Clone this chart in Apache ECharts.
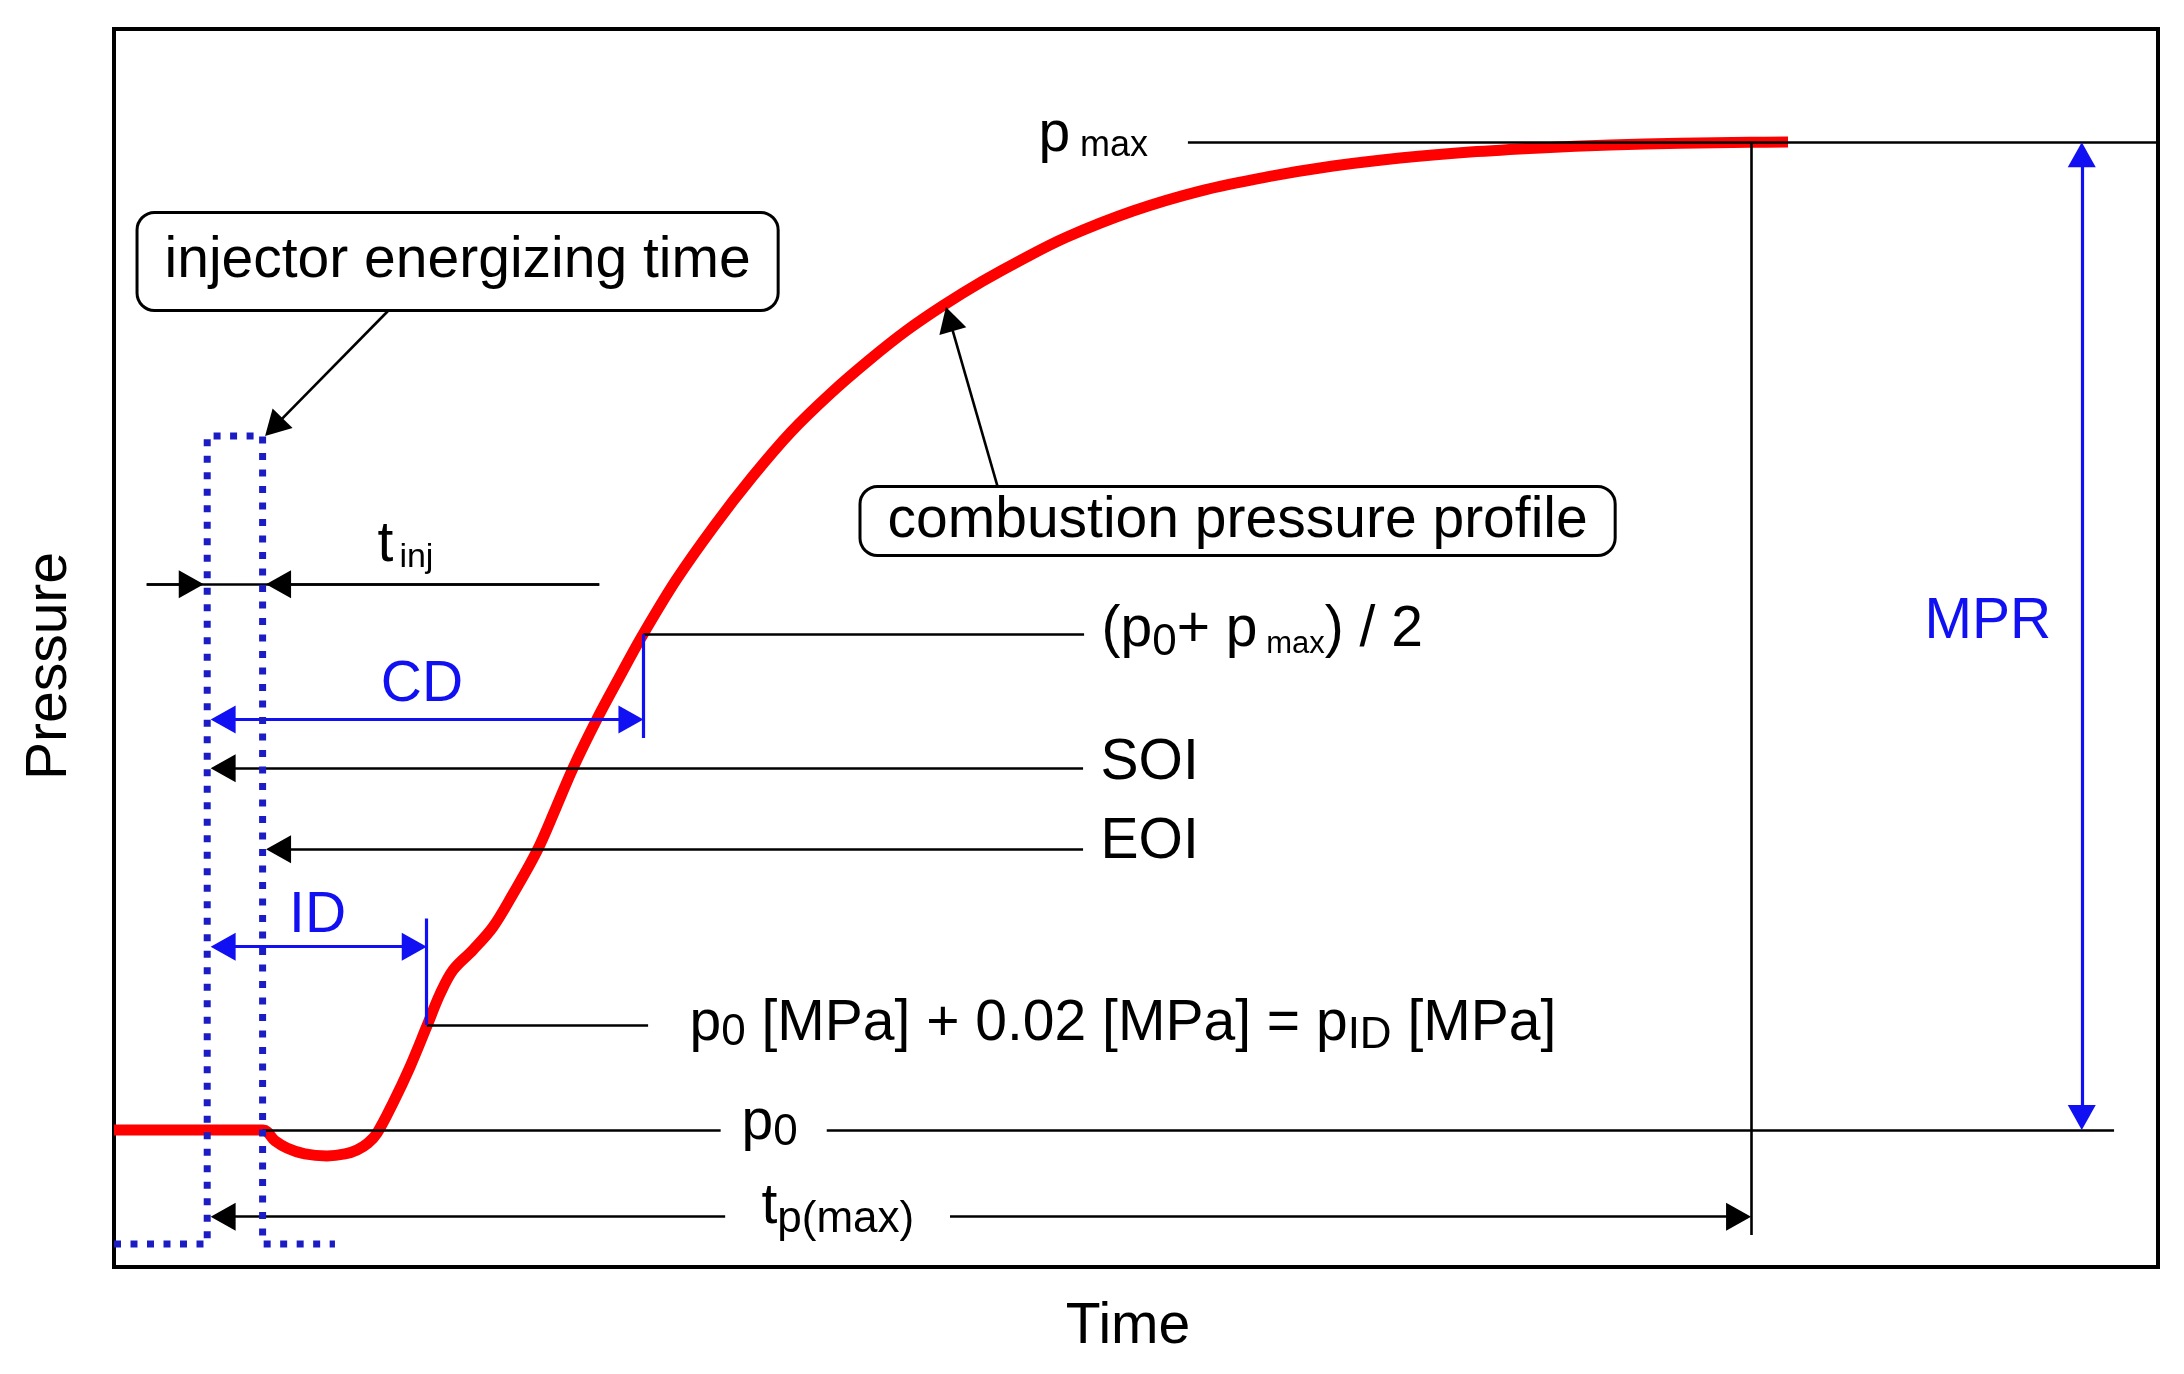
<!DOCTYPE html>
<html>
<head>
<meta charset="utf-8">
<script src="https://cdn.jsdelivr.net/npm/echarts@6/dist/echarts.min.js"></script>
<style>html,body{margin:0;padding:0;background:#fff}#c{width:2184px;height:1374px}</style>
</head>
<body>
<div id="c"></div>
<script>
// ---------------- data ----------------
// combustion pressure profile (time, pressure) in arbitrary units
const curveTime = [0, 7.29, 7.88, 8.46, 9.34, 10.42, 11.30, 11.89, 12.43, 12.87, 13.65, 14.48, 15.31, 15.95, 16.59, 17.56, 18.54, 19.52, 20.69, 21.62, 22.46, 23.63, 24.76, 25.78, 27.50, 29.40, 31.26, 33.12, 35.03, 36.89, 38.75, 40.61, 42.51, 44.37, 46.62, 49.85, 53.13, 56.41, 59.64, 62.92, 66.34, 69.77, 73.19, 76.61, 80.04, 81.90];
const curvePressure = [11.07, 11.07, 10.18, 9.61, 9.13, 8.97, 9.13, 9.45, 10.02, 10.82, 13.25, 16.16, 19.47, 22.05, 23.99, 25.61, 27.46, 30.13, 33.60, 37.08, 40.31, 44.26, 47.74, 50.81, 55.49, 59.94, 63.89, 67.45, 70.52, 73.18, 75.61, 77.71, 79.64, 81.34, 83.20, 85.30, 86.91, 88.05, 88.93, 89.58, 90.06, 90.39, 90.63, 90.77, 90.85, 90.87];
// injector energizing signal
const injectorTime = [0, 4.56, 4.56, 7.27, 7.27, 10.81];
const injectorSignal = [1.86, 1.86, 67.12, 67.12, 1.86, 1.86];
// pressure levels
const P0 = 11.07, PMAX = 90.85, PHALF = 51.1, PID = 19.55;
// event times
const T_SOI = 4.56, T_EOI = 7.27, T_ID = 15.30, T_CD = 25.9, T_PMAX = 80.09, T_MPR = 96.27;
// heights of the annotation rows
const Y_TINJ = 55.15, Y_CD = 44.22, Y_SOI = 40.28, Y_EOI = 33.74, Y_ID = 25.87, Y_TP = 4.06;
// arrow head geometry in data units
const TIP_DX = 0.17, HEAD_DX = 0.61, HEAD_DY = 1.01;

// ---------------- styling ----------------
const FF = "'Liberation Sans', Arial, Helvetica, sans-serif";
const INK = '#000000', BLUE = '#1010f2', DOT = '#1c1cc4', RED = '#ff0000';
const HEAD = {symbol: 'triangle', symbolSize: [28, 25]};
const NONE = {symbol: 'none'};
function seg(a, b, headEnd, headStart) {
  return [Object.assign({coord: a}, headStart ? HEAD : NONE), Object.assign({coord: b}, headEnd ? HEAD : NONE)];
}

const blackLines = [
  seg([52.54, PMAX], [100, PMAX]),
  seg([T_EOI, P0], [29.68, P0]),
  seg([34.87, P0], [97.85, P0]),
  seg([1.60, Y_TINJ], [23.74, Y_TINJ]),
  seg([1.60, Y_TINJ], [T_SOI - TIP_DX - HEAD_DX, Y_TINJ], true),
  seg([23.74, Y_TINJ], [T_EOI + TIP_DX + HEAD_DX, Y_TINJ], true),
  seg([T_CD, PHALF], [47.46, PHALF]),
  seg([47.41, Y_SOI], [T_SOI + TIP_DX + HEAD_DX, Y_SOI], true),
  seg([47.41, Y_EOI], [T_EOI + TIP_DX + HEAD_DX, Y_EOI], true),
  seg([T_ID, PID], [26.13, PID]),
  seg([T_PMAX, PMAX], [T_PMAX, 2.58]),
  seg([29.9, Y_TP], [T_SOI + TIP_DX + HEAD_DX, Y_TP], true),
  seg([40.9, Y_TP], [T_PMAX - HEAD_DX, Y_TP], true),
  seg([13.5, 77.38], [7.82, 67.84], true),
  seg([43.25, 62.92], [40.87, 76.57], true)
];
const blueLines = [
  seg([T_SOI + TIP_DX + HEAD_DX, Y_CD], [T_CD - HEAD_DX, Y_CD], true, true),
  seg([T_CD, PHALF], [T_CD, 42.73]),
  seg([T_SOI + TIP_DX + HEAD_DX, Y_ID], [T_ID - HEAD_DX, Y_ID], true, true),
  seg([T_ID, 28.15], [T_ID, PID]),
  seg([T_MPR, PMAX - HEAD_DY], [T_MPR, P0 + HEAD_DY], true, true)
];

function tok(size, extra) {
  return Object.assign({fontFamily: FF, fontSize: size, color: INK, opacity: 1}, extra || {});
}
function txt(pos, formatter, extra) {
  return {
    value: pos,
    label: Object.assign({
      show: true, formatter: formatter, position: 'right', distance: 0, opacity: 1,
      fontFamily: FF, fontSize: 57, color: INK
    }, extra || {})
  };
}
const boxStyle = {
  position: 'inside', backgroundColor: '#ffffff', borderColor: INK, borderWidth: 3, borderRadius: 16
};
const labels = [
  txt([16.81, 81.22], 'injector energizing time', Object.assign({}, boxStyle, {lineHeight: 57, padding: [11, 26, 27, 26]})),
  txt([54.97, 60.26], 'combustion pressure profile', Object.assign({}, boxStyle, {lineHeight: 40, padding: [10, 26, 16, 26]})),
  txt([45.2, 91.42], '{m|p}{s| max}', {rich: {m: tok(57, {lineHeight: 57}), s: tok(36, {height: 36, verticalAlign: 'bottom'})}}),
  txt([30.68, 11.62], '{m|p}{s|0}', {rich: {m: tok(57, {lineHeight: 57}), s: tok(44, {height: 38, verticalAlign: 'bottom'})}}),
  txt([12.87, 58.32], '{m|t}{s|inj}', {rich: {m: tok(57, {lineHeight: 57}), s: tok(34, {height: 31, verticalAlign: 'bottom', padding: [0, 0, 0, 6]})}}),
  txt([31.65, 4.85], '{m|t}{s|p(max)}', {rich: {m: tok(57, {lineHeight: 57}), s: tok(44, {height: 31, verticalAlign: 'bottom'})}}),
  txt([48.29, 51.44], '{m|(p}{a|0}{m|+ p}{b| max}{m|) / 2}', {rich: {
    m: tok(57, {lineHeight: 57}),
    a: tok(44, {height: 32, verticalAlign: 'bottom'}),
    b: tok(31, {height: 29, verticalAlign: 'bottom'})
  }}),
  txt([28.13, 19.60], '{m|p}{a|0}{m| [MPa] + 0.02 [MPa] = p}{b|ID}{m| [MPa]}', {rich: {
    m: tok(57, {lineHeight: 57}),
    a: tok(44, {height: 40, verticalAlign: 'bottom'}),
    b: tok(44, {height: 34, verticalAlign: 'bottom'})
  }}),
  txt([48.24, 40.71], 'SOI'),
  txt([48.24, 34.29], 'EOI'),
  txt([91.68, 52.1], 'MPR', {position: 'inside', color: BLUE}),
  txt([15.07, 47.01], 'CD', {position: 'inside', color: BLUE}),
  txt([9.96, 28.35], 'ID', {position: 'inside', color: BLUE})
];

const chart = echarts.init(document.getElementById('c'));
chart.setOption({
  animation: false,
  backgroundColor: '#ffffff',
  grid: {left: 114, right: 26, top: 29, bottom: 107, show: true, borderColor: '#000', borderWidth: 4,
         backgroundColor: '#ffffff', containLabel: false, outerBoundsMode: 'none'},
  xAxis: {
    type: 'value', min: 0, max: 100, name: 'Time', nameLocation: 'middle', nameGap: 32,
    nameTextStyle: {fontFamily: FF, fontSize: 57, color: INK, padding: [0, 16, 0, 0]},
    axisLine: {show: false}, axisTick: {show: false}, axisLabel: {show: false}, splitLine: {show: false}
  },
  yAxis: {
    type: 'value', min: 0, max: 100, name: 'Pressure', nameLocation: 'middle', nameGap: 35,
    nameTextStyle: {fontFamily: FF, fontSize: 57, color: INK, padding: [0, 36, 0, 0]},
    axisLine: {show: false}, axisTick: {show: false}, axisLabel: {show: false}, splitLine: {show: false}
  },
  series: [
    {
      name: 'combustion pressure', type: 'line', z: 2, silent: true, showSymbol: false, smooth: 0.35,
      data: curveTime.map((t, i) => [t, curvePressure[i]]),
      lineStyle: {color: RED, width: 11, cap: 'butt', join: 'round'},
      emphasis: {disabled: true}
    },
    {
      name: 'annotations black', type: 'line', data: [], z: 3, silent: true,
      markLine: {silent: true, z: 3, animation: false, label: {show: false}, symbol: ['none', 'none'],
        lineStyle: {color: INK, width: 2.6, type: 'solid', opacity: 1}, itemStyle: {color: INK}, emphasis: {disabled: true}, data: blackLines}
    },
    {
      name: 'annotations blue', type: 'line', data: [], z: 4, silent: true,
      markLine: {silent: true, z: 4, animation: false, label: {show: false}, symbol: ['none', 'none'],
        lineStyle: {color: BLUE, width: 3.2, type: 'solid', opacity: 1}, itemStyle: {color: BLUE}, emphasis: {disabled: true}, data: blueLines}
    },
    {
      name: 'injector', type: 'line', z: 6, silent: true, showSymbol: false,
      data: injectorTime.map((t, i) => [t, injectorSignal[i]]),
      lineStyle: {color: DOT, width: 7, type: [7, 9.5], cap: 'butt', join: 'miter'},
      emphasis: {disabled: true}
    },
    {
      name: 'labels', type: 'scatter', z: 8, silent: true, symbolSize: 1,
      itemStyle: {color: 'rgba(0,0,0,0)', opacity: 1}, emphasis: {disabled: true}, data: labels
    }
  ]
});
</script>
</body>
</html>
